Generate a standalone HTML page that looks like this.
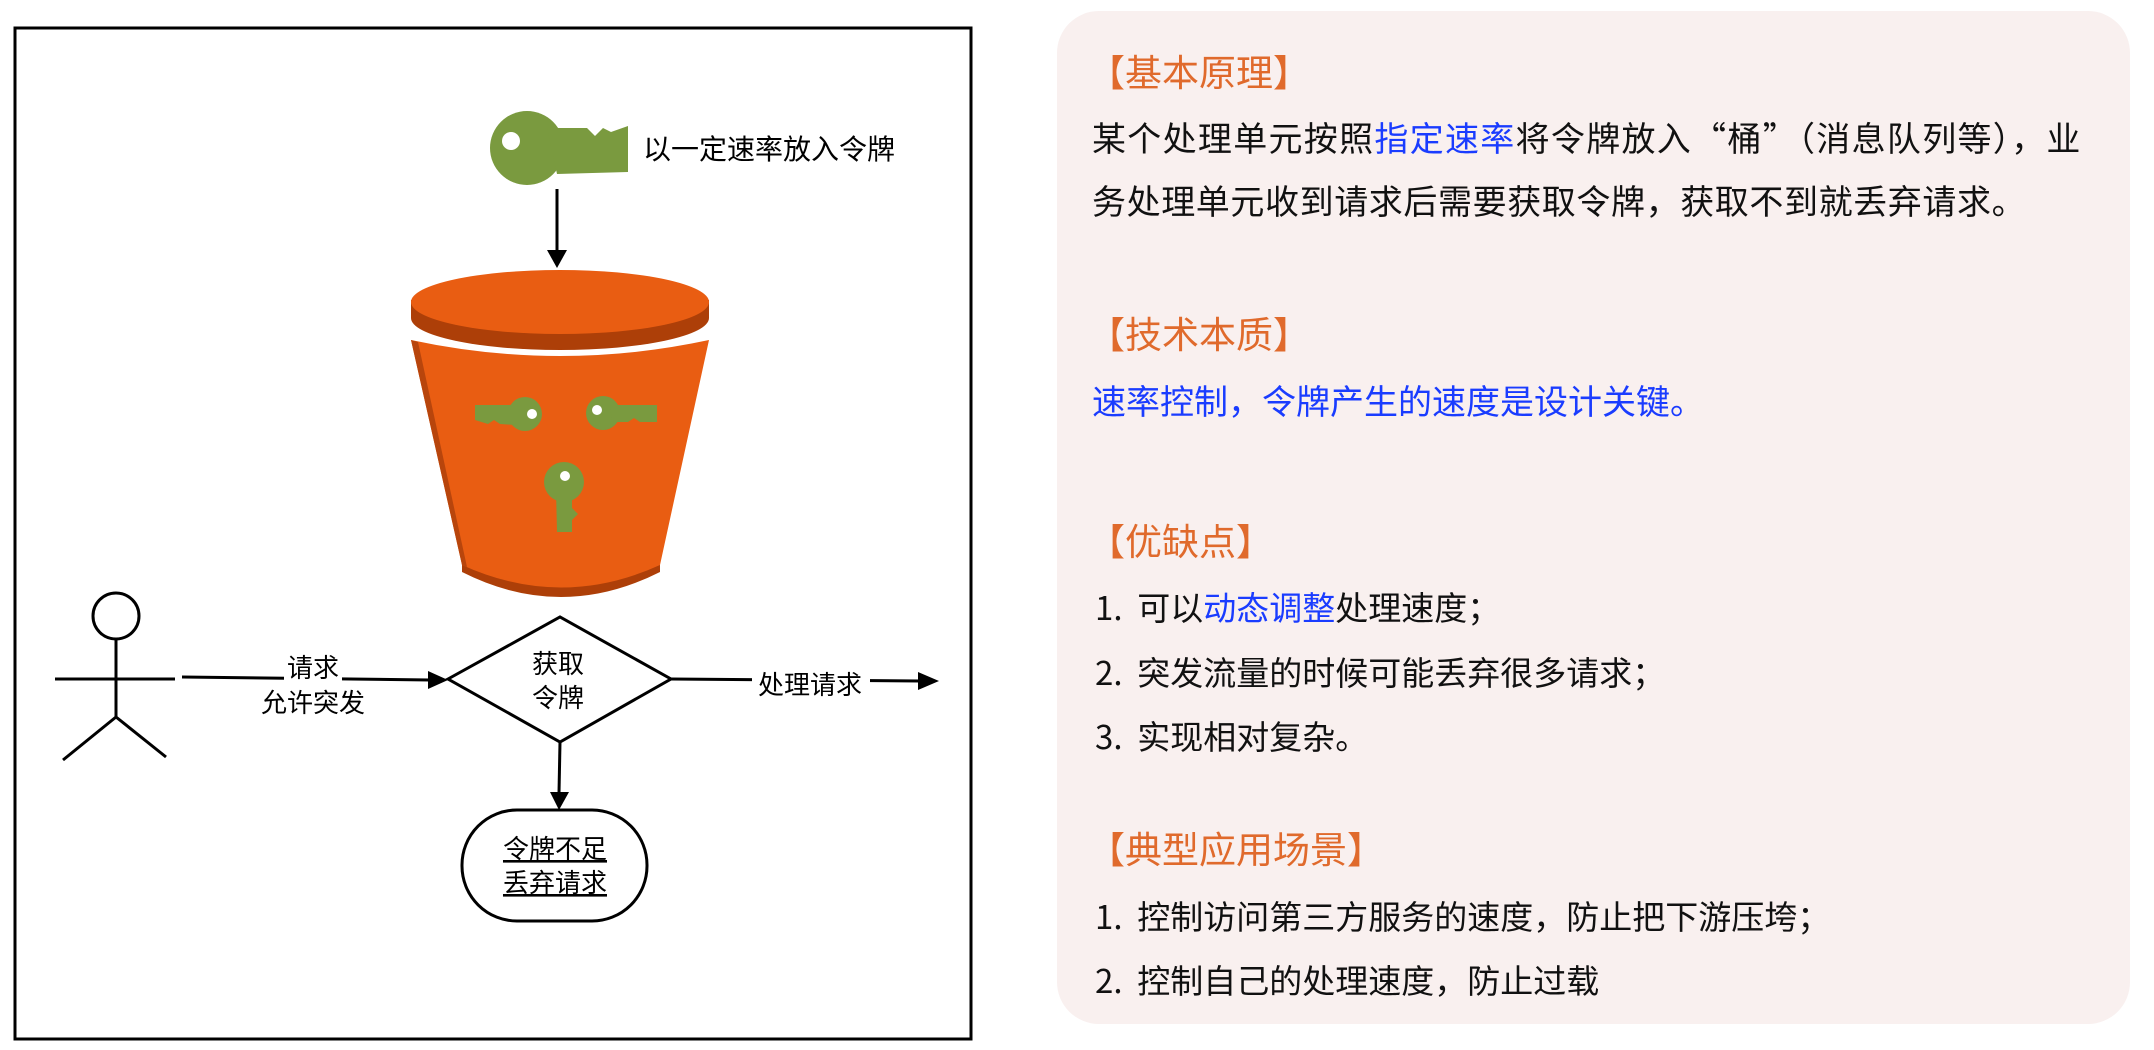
<!DOCTYPE html>
<html><head><meta charset="utf-8"><style>
html,body{margin:0;padding:0;background:#fff;width:2154px;height:1050px;overflow:hidden;position:relative;font-family:"Liberation Sans","Noto Sans CJK SC",sans-serif;}
#panel{position:absolute;left:1057px;top:11px;width:1073px;height:1013px;border-radius:42px;background:#f9f0ef;}
.t{position:absolute;white-space:nowrap;color:#111;font-size:33px;line-height:40px;font-family:"Noto Sans CJK SC","Liberation Sans",sans-serif;}
.h{color:#e06a2c;font-size:37px;line-height:44px;}
.b{color:#1a3cff;}
</style></head><body>
<svg width="1000" height="1050" style="position:absolute;left:0;top:0" font-family="Liberation Sans, Noto Sans CJK SC, sans-serif">
<rect x="15" y="28" width="956" height="1011" fill="none" stroke="#000" stroke-width="3"/>
<!-- top key -->
<g fill="#7a9a3f">
<circle cx="527" cy="148" r="37"/>
<path d="M547 128 H587 L595 136 L603 128 L611 132 L628 126 V172 L557 174 Z"/>
</g>
<circle cx="511" cy="141" r="9" fill="#fff"/>
<text x="643" y="159" font-size="28">以一定速率放入令牌</text>
<line x1="557" y1="189" x2="557" y2="252" stroke="#000" stroke-width="3"/>
<polygon points="547,250 567,250 557,268" fill="#000"/>
<!-- bucket -->
<path d="M462 560 Q561 610 660 560 L660 572 Q561 622 462 572 Z" fill="#ad3f08"/>
<path d="M411 340 Q560 372 709 340 L660 565 Q561 610 462 565 Z" fill="#e95d12"/>
<path d="M411 340 L462 565 L467 567 L418 342 Z" fill="#b8450c"/>
<path d="M411 334 Q560 374 709 334" fill="none" stroke="#fff" stroke-width="3"/>
<ellipse cx="560" cy="318" rx="149" ry="32" fill="#ad3f08"/>
<rect x="411" y="300" width="298" height="18" fill="#ad3f08"/>
<ellipse cx="560" cy="302" rx="149" ry="32" fill="#e95d12"/>
<!-- inner keys -->
<g fill="#7a9a3f">
<circle cx="525" cy="414" r="17"/><path d="M475 405 H515 V425 L500 424 L494 420 L488 424 L475 420 Z"/>
<circle cx="603" cy="413" r="17"/><path d="M610 405 H657 V422 L640 422 L634 418 L628 422 H612 Z"/>
<circle cx="564" cy="482" r="20"/><path d="M556 490 H572 V508 L578 514 L572 520 V532 H557 Z"/>
</g>
<circle cx="532" cy="414" r="5" fill="#fff"/><circle cx="597" cy="410" r="5" fill="#fff"/><circle cx="565" cy="476" r="5" fill="#fff"/>
<!-- stick figure -->
<g stroke="#000" stroke-width="3" fill="none">
<circle cx="116" cy="616" r="23"/>
<line x1="55" y1="679" x2="175" y2="679"/>
<line x1="116" y1="639" x2="116" y2="717"/>
<line x1="116" y1="717" x2="63" y2="760"/>
<line x1="116" y1="717" x2="166" y2="757"/>
<line x1="182" y1="677" x2="430" y2="680"/>
<polygon points="448,679 560,617 671,679 560,742" />
<line x1="671" y1="679" x2="920" y2="681"/>
<line x1="560" y1="742" x2="559" y2="793"/>
<rect x="462" y="810" width="185" height="111" rx="55" ry="55"/>
</g>
<polygon points="428,671 448,680 428,689" fill="#000"/>
<polygon points="918,672 939,681 918,690" fill="#000"/>
<polygon points="550,792 569,792 559,810" fill="#000"/>
<rect x="284" y="650" width="58" height="34" fill="#fff"/>
<rect x="752" y="666" width="118" height="36" fill="#fff"/>
<g font-size="26" text-anchor="middle">
<text x="313" y="677">请求</text>
<text x="313" y="712">允许突发</text>
<text x="558" y="673">获取</text>
<text x="558" y="707">令牌</text>
<text x="810" y="694">处理请求</text>
<text x="555" y="858" text-decoration="underline">令牌不足</text>
<text x="555" y="892" text-decoration="underline">丢弃请求</text>
</g>
</svg>
<div id="panel"></div>
<div class="t h" style="left:1088px;top:48px">【基本原理】</div>
<div class="t" style="left:1092px;top:117px;font-size:34px;letter-spacing:1.3px">某个处理单元按照<span class="b">指定速率</span>将令牌放入“桶”（消息队列等），业</div>
<div class="t" style="left:1092px;top:180px;font-size:34px;letter-spacing:0.6px">务处理单元收到请求后需要获取令牌，获取不到就丢弃请求。</div>
<div class="t h" style="left:1088px;top:310px">【技术本质】</div>
<div class="t b" style="left:1092px;top:380px;font-size:34px">速率控制，令牌产生的速度是设计关键。</div>
<div class="t h" style="left:1088px;top:517px">【优缺点】</div>
<div class="t" style="left:1095px;top:586px">1.&nbsp;&nbsp;可以<span class="b">动态调整</span>处理速度；</div>
<div class="t" style="left:1095px;top:651px">2.&nbsp;&nbsp;突发流量的时候可能丢弃很多请求；</div>
<div class="t" style="left:1095px;top:715px">3.&nbsp;&nbsp;实现相对复杂。</div>
<div class="t h" style="left:1088px;top:825px">【典型应用场景】</div>
<div class="t" style="left:1095px;top:895px">1.&nbsp;&nbsp;控制访问第三方服务的速度，防止把下游压垮；</div>
<div class="t" style="left:1095px;top:959px">2.&nbsp;&nbsp;控制自己的处理速度，防止过载</div>
</body></html>
